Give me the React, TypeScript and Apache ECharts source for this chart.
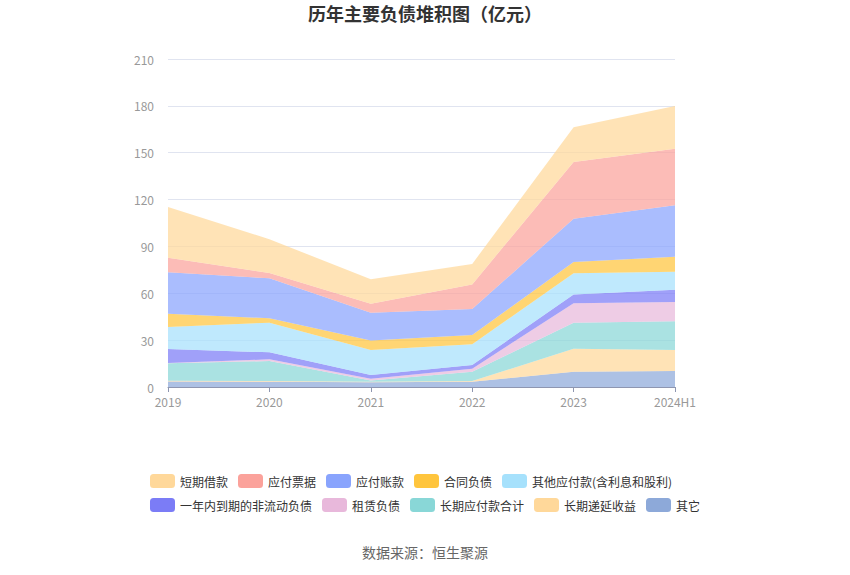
import React, { useEffect, useRef } from "react";
import * as echarts from "echarts";

const categories = ["2019", "2020", "2021", "2022", "2023", "2024H1"];

// bottom-up stacking order
const qita = [3.5, 3.4, 3.0, 3.4, 9.8, 10.2];
const changqiDiyan = [0.5, 0.5, 0.3, 0.4, 14.7, 13.5];
const changqiYingfu = [11.2, 12.7, 0.8, 6.0, 16.7, 18.4];
const zulin = [0.2, 1.1, 1.2, 1.9, 12.4, 12.3];
const yinianNei = [8.9, 4.5, 2.4, 2.4, 5.7, 7.9];
const qitaYingfu = [14.1, 19.0, 16.0, 13.2, 13.5, 11.5];
const hetong = [8.5, 2.8, 6.0, 6.0, 7.2, 9.6];
const yingfuZhangkuan = [26.5, 25.6, 17.9, 16.6, 27.8, 32.9];
const yingfuPiaoju = [9.4, 3.4, 5.7, 15.8, 36.3, 36.3];
const duanqi = [32.4, 21.6, 15.7, 13.1, 22.2, 27.3];

const seriesDefs = [
  { name: "其它", data: qita, color: "#8DA9D9" },
  { name: "长期递延收益", data: changqiDiyan, color: "#FFD89A" },
  { name: "长期应付款合计", data: changqiYingfu, color: "#89D7D7" },
  { name: "租赁负债", data: zulin, color: "#E8B8DB" },
  { name: "一年内到期的非流动负债", data: yinianNei, color: "#7B7CF6" },
  { name: "其他应付款(含利息和股利)", data: qitaYingfu, color: "#A6E1FC" },
  { name: "合同负债", data: hetong, color: "#FFC53D" },
  { name: "应付账款", data: yingfuZhangkuan, color: "#89A4FD" },
  { name: "应付票据", data: yingfuPiaoju, color: "#FBA29B" },
  { name: "短期借款", data: duanqi, color: "#FFD89A" },
];

const legendOrder = [
  "短期借款",
  "应付票据",
  "应付账款",
  "合同负债",
  "其他应付款(含利息和股利)",
  "一年内到期的非流动负债",
  "租赁负债",
  "长期应付款合计",
  "长期递延收益",
  "其它",
];

const FONT = "'Noto Sans CJK SC', 'Noto Sans', sans-serif";

export default function App() {
  const ref = useRef<HTMLDivElement>(null);
  useEffect(() => {
    if (!ref.current) return;
    const chart = echarts.init(ref.current, undefined, { renderer: "svg" });
    chart.setOption({
      animation: false,
      textStyle: { fontFamily: FONT },
      title: {
        text: "历年主要负债堆积图（亿元）",
        left: "center",
        top: 4,
        padding: 0,
        textStyle: { fontSize: 18, fontWeight: "bold", color: "#333", fontFamily: FONT },
      },
      graphic: [
        {
          type: "text",
          left: "center",
          top: 545,
          style: { text: "数据来源：恒生聚源", fontSize: 14, fill: "#666", fontFamily: FONT },
        },
      ],
      legend: {
        data: legendOrder,
        left: "center",
        top: 469,
        width: 570,
        itemWidth: 25,
        itemHeight: 14,
        itemGap: 10,
        icon: "roundRect",
        textStyle: { fontSize: 12, color: "#333", fontFamily: FONT },
      },
      grid: { left: 168, right: 175, top: 59, bottom: 188, containLabel: false },
      xAxis: {
        type: "category",
        data: categories,
        boundaryGap: false,
        axisLine: { lineStyle: { color: "#8e96b0" } },
        axisTick: { show: true, lineStyle: { color: "#8e96b0" } },
        axisLabel: { color: "#999", fontSize: 12, margin: 8 },
      },
      yAxis: {
        type: "value",
        min: 0,
        max: 210,
        interval: 30,
        axisLine: { show: false },
        axisTick: { show: false },
        axisLabel: { color: "#999", fontSize: 12, margin: 14 },
        splitLine: { lineStyle: { color: "#e0e4f0" } },
      },
      series: seriesDefs.map((s) => ({
        name: s.name,
        type: "line",
        stack: "total",
        data: s.data,
        symbol: "none",
        color: s.color,
        lineStyle: { width: 0 },
        areaStyle: { color: s.color, opacity: 0.72 },
      })),
    });
    return () => chart.dispose();
  }, []);
  return (
    <div
      ref={ref}
      style={{ position: "absolute", left: 0, top: 0, width: 850, height: 575 }}
    />
  );
}
